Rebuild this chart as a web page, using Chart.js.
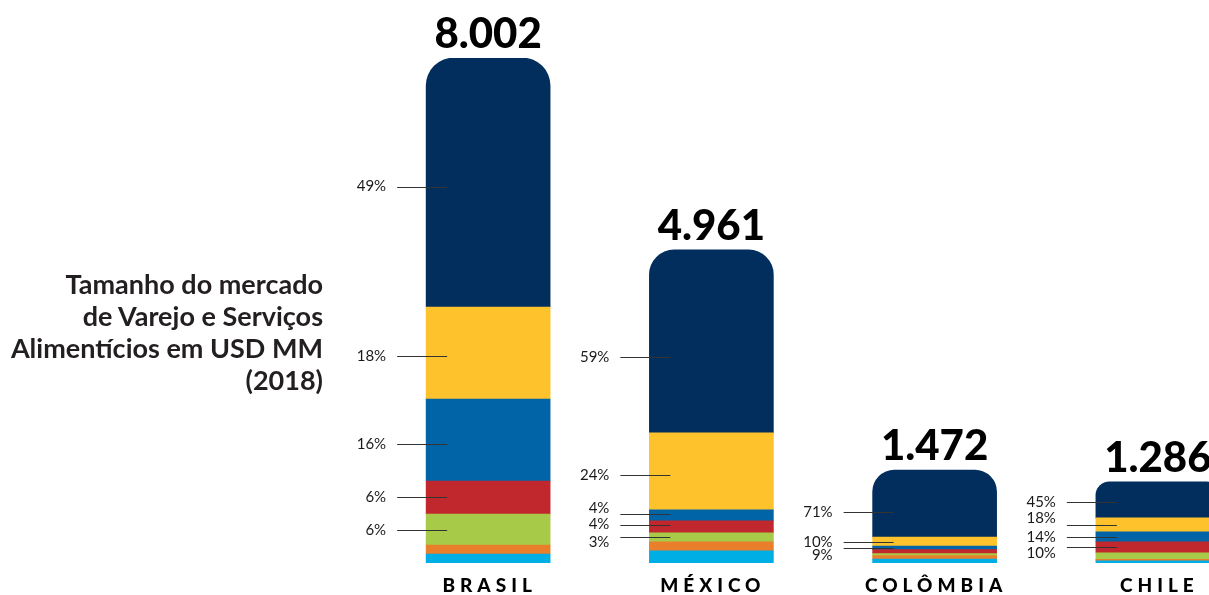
<!DOCTYPE html>
<html>
<head>
<meta charset="utf-8">
<script src="https://cdn.jsdelivr.net/npm/chart.js@4.4.0/dist/chart.umd.min.js"></script>
<style>
  html, body { margin: 0; padding: 0; background: #fff; overflow: hidden; }
  #wrap { position: relative; width: 1209px; height: 595px; overflow: hidden; }
  #box { position: absolute; left: 0; top: 0; width: 1270px; height: 595px; }
  #title {
    position: absolute; left: 0; top: 268px; width: 323px; text-align: right;
    font-family: Lato, sans-serif; font-weight: 700; font-size: 27px; line-height: 32px; color: #231f20;
    white-space: nowrap;
  }
</style>
</head>
<body>
<div id="wrap">
  <div id="box"><canvas id="chart"></canvas></div>
  <div id="title">Tamanho do mercado<br>de Varejo e Serviços<br>Alimentícios em USD MM<br>(2018)</div>
</div>
<script>
  // ── Data (USD MM, 2018) ──
  const countries = ['BRASIL', 'MÉXICO', 'COLÔMBIA', 'CHILE'];
  const totals = [8002, 4961, 1472, 1286];
  const totalLabels = ['8.002', '4.961', '1.472', '1.286'];

  // stack segments, bottom to top
  const cyan   = [141, 191, 62, 35];
  const orange = [143, 143, 55, 22];
  const green  = [491, 143, 32, 105];
  const red    = [523, 190, 63, 174];
  const blue   = [1300, 174, 55, 158];
  const yellow = [1458, 1220, 143, 222];
  const navy   = [3946, 2900, 1062, 570];

  // share labels, top segment first (navy, yellow, blue, red, green)
  const pctLabels = [
    ['49%', '18%', '16%', '6%', '6%'],
    ['59%', '24%', '4%', '4%', '3%'],
    ['71%', '10%', '9%'],
    ['45%', '18%', '14%', '10%'],
  ];

  // label nudges in px: [lineDy, textDy]
  const pctNudge = [
    [[4, -1], [3, 0], [4, 0], [-1, 0], [0, 0]],
    [[16, 0], [4, 0], [-1, -6], [-2, -1], [0, 5]],
    [[8, 0], [0, 0], [0, 7]],
    [[2, 0], [0, -7], [0, 0], [0, 6]],
  ];

  const segments = [
    { label: 'cyan', data: cyan, color: '#00aee6' },
    { label: 'orange', data: orange, color: '#e97e2b' },
    { label: 'green', data: green, color: '#a7cb48' },
    { label: 'red', data: red, color: '#c1282e' },
    { label: 'blue', data: blue, color: '#0064a7' },
    { label: 'yellow', data: yellow, color: '#fec22c' },
    { label: 'navy', data: navy, color: '#022e5e' },
  ];
  const topRadius = [28, 25, 22, 14];

  // ── Plugin: totals, share labels, country names ──
  const annotate = {
    id: 'annotate',
    afterDatasetsDraw(chart) {
      const ctx = chart.ctx;
      const y = chart.scales.y;
      const n = chart.data.datasets.length;
      const topMeta = chart.getDatasetMeta(n - 1);
      ctx.save();

      countries.forEach((name, i) => {
        const bar = topMeta.data[i];
        const cx = bar.x;
        const left = cx - bar.width / 2;

        // total
        ctx.fillStyle = '#000';
        ctx.font = '900 42px Lato';
        ctx.textAlign = 'center';
        ctx.textBaseline = 'alphabetic';
        ctx.fillText(totalLabels[i], cx, y.getPixelForValue(totals[i]) - 10);

        // country
        ctx.font = '900 19px Lato';
        ctx.letterSpacing = '5px';
        ctx.textBaseline = 'middle';
        ctx.fillText(name, cx + 1.5, 586);
        ctx.letterSpacing = '0px';

        // shares
        ctx.font = '400 15px Lato';
        ctx.textAlign = 'right';
        ctx.strokeStyle = '#333';
        ctx.lineWidth = 1;
        pctLabels[i].forEach((txt, k) => {
          const el = chart.getDatasetMeta(n - 1 - k).data[i];
          const ly = Math.round((el.y + el.base) / 2 + pctNudge[i][k][0]) + 0.5;
          const ty = ly + pctNudge[i][k][1];
          ctx.beginPath();
          ctx.moveTo(left - 29, ly);
          ctx.lineTo(left + 21, ly);
          ctx.stroke();
          ctx.fillStyle = '#1a1a1a';
          ctx.fillText(txt, left - 40, ty);
        });
      });
      ctx.restore();
    }
  };

  new Chart(document.getElementById('chart').getContext('2d'), {
    type: 'bar',
    data: {
      labels: countries,
      datasets: segments.map((s, idx) => ({
        label: s.label,
        data: s.data,
        backgroundColor: s.color,
        borderWidth: 0,
        barThickness: 124,
        borderSkipped: false,
        borderRadius: idx === segments.length - 1
          ? (c) => ({ topLeft: topRadius[c.dataIndex], topRight: topRadius[c.dataIndex], bottomLeft: 0, bottomRight: 0 })
          : 0,
      }))
    },
    options: {
      responsive: true,
      maintainAspectRatio: false,
      animation: false,
      layout: { padding: { left: 376.5, right: 0.5, top: 58, bottom: 32 } },
      plugins: { legend: { display: false }, tooltip: { enabled: false } },
      scales: {
        x: { stacked: true, display: false },
        y: { stacked: true, display: false, min: 0, max: 8002 },
      },
    },
    plugins: [annotate]
  });
</script>
</body>
</html>
